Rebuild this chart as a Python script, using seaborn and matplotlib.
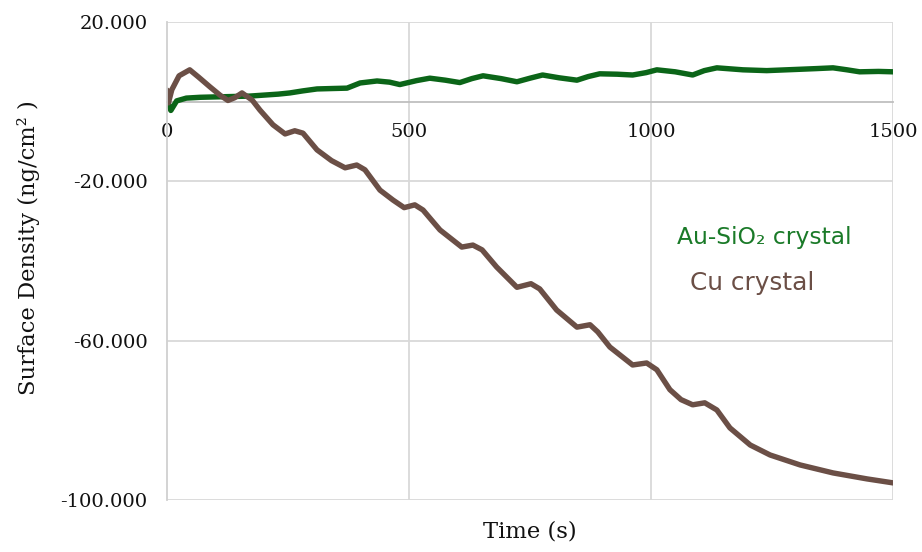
import matplotlib
matplotlib.use("Agg")
import matplotlib.pyplot as plt
import seaborn as sns
import pandas as pd

# Au-SiO2 crystal: time (s) and surface density (ng/cm^2)
au_time = [0, 3, 8, 20, 40, 68, 100, 136, 170, 206, 230, 254, 280, 310, 340, 372,
           399, 434, 460, 481, 516, 543, 575, 605, 630, 653, 690, 723, 750, 776,
           810, 847, 870, 894, 930, 962, 990, 1012, 1050, 1086, 1110, 1136, 1190,
           1239, 1300, 1340, 1376, 1405, 1431, 1470, 1500]
au_density = [1.5, -0.5, -2.2, 0.2, 0.9, 1.1, 1.2, 1.3, 1.4, 1.7, 1.9, 2.2, 2.7, 3.2,
              3.3, 3.4, 4.7, 5.2, 4.9, 4.3, 5.3, 5.9, 5.4, 4.8, 5.8, 6.5, 5.8, 5.0,
              5.9, 6.7, 6.0, 5.4, 6.3, 7.0, 6.9, 6.7, 7.3, 8.0, 7.5, 6.7, 7.8, 8.5,
              8.0, 7.8, 8.1, 8.3, 8.5, 8.0, 7.5, 7.6, 7.5]

# Cu crystal: time (s) and surface density (ng/cm^2)
cu_time = [0, 3, 10, 25, 47, 65, 89, 110, 126, 140, 155, 176, 192, 219, 244, 264,
           281, 310, 340, 368, 392, 409, 440, 467, 490, 512, 529, 564, 609, 632,
           651, 681, 723, 752, 770, 805, 847, 874, 890, 915, 962, 991, 1012, 1039,
           1062, 1086, 1111, 1136, 1163, 1205, 1246, 1308, 1376, 1446, 1500]
cu_density = [2.9, -0.3, 3.0, 6.5, 8.0, 6.2, 3.7, 1.6, 0.3, 1.0, 2.2, 0.4, -2.1,
              -5.8, -8.1, -7.3, -7.9, -12.1, -14.8, -16.6, -15.9, -17.1, -22.2,
              -24.7, -26.6, -25.9, -27.2, -32.2, -36.5, -36.0, -37.2, -41.5, -46.6,
              -45.7, -47.0, -52.3, -56.6, -56.0, -57.8, -61.6, -66.1, -65.6, -67.3,
              -72.3, -74.8, -76.1, -75.6, -77.4, -81.9, -86.2, -88.7, -91.2, -93.2,
              -94.7, -95.7]

series_names = ["Au-SiO\u2082 crystal", "Cu crystal"]
series_colors = ["#0B6518", "#6B4F46"]
label_colors = ["#1A7A28", "#6B4F46"]

y_ticks = [20, -20, -60, -100]
y_tick_labels = ["20.000", "-20.000", "-60.000", "-100.000"]
x_ticks = [0, 500, 1000, 1500]
x_tick_labels = ["0", "500", "1000", "1500"]

df = pd.concat([
    pd.DataFrame({"Time": au_time, "Density": au_density, "Series": series_names[0]}),
    pd.DataFrame({"Time": cu_time, "Density": cu_density, "Series": series_names[1]}),
])

sns.set_theme(style="white")
plt.rcParams["font.family"] = ["DejaVu Serif"]

fig = plt.figure(figsize=(9.22, 5.52), dpi=100)
ax = fig.add_axes([0.1811, 0.0942, 0.7875, 0.8659])

sns.lineplot(data=df, x="Time", y="Density", hue="Series", hue_order=series_names,
             palette=series_colors, linewidth=3.9, legend=False, ax=ax,
             estimator=None, sort=False)
for line in ax.lines:
    line.set_solid_joinstyle("round")
    line.set_solid_capstyle("round")

ax.set_xlim(0, 1500)
ax.set_ylim(-100, 20)
ax.set_yticks(y_ticks)
ax.set_yticklabels(y_tick_labels)
ax.set_xticks(x_ticks)
ax.set_xticklabels(x_tick_labels)

# Gridlines
for yv in y_ticks:
    ax.axhline(yv, color="#D9D9D9", lw=1.3, zorder=0)
for xv in x_ticks[1:]:
    ax.axvline(xv, color="#D9D9D9", lw=1.3, zorder=0)

for side in ["top", "right"]:
    ax.spines[side].set_visible(False)
ax.spines["left"].set_color("#D0D0D0")
ax.spines["left"].set_linewidth(1.3)
ax.spines["bottom"].set_position(("data", 0))
ax.spines["bottom"].set_color("#BFBFBF")
ax.spines["bottom"].set_linewidth(1.3)
ax.spines["bottom"].set_zorder(0.5)

ax.tick_params(axis="both", length=0, labelsize=14, colors="#111111")
ax.tick_params(axis="y", pad=14)
ax.tick_params(axis="x", pad=15)

ax.set_xlabel("")
ax.set_ylabel("")
fig.text(0.575, 0.038, "Time (s)", ha="center", va="center", fontsize=16.3, color="#111111")
fig.text(0.031, 0.551, "Surface Density (ng/cm\u00b2 )", ha="center", va="center",
         rotation=90, fontsize=16.3, color="#111111")

ax.text(1235, -34.2, series_names[0], ha="center", va="center", fontsize=16.8,
        color=label_colors[0], family=["DejaVu Sans"])
ax.text(1209, -45.5, series_names[1], ha="center", va="center", fontsize=17.8,
        color=label_colors[1], family=["DejaVu Sans"])

fig.savefig("out.png", dpi=100, facecolor="white")
